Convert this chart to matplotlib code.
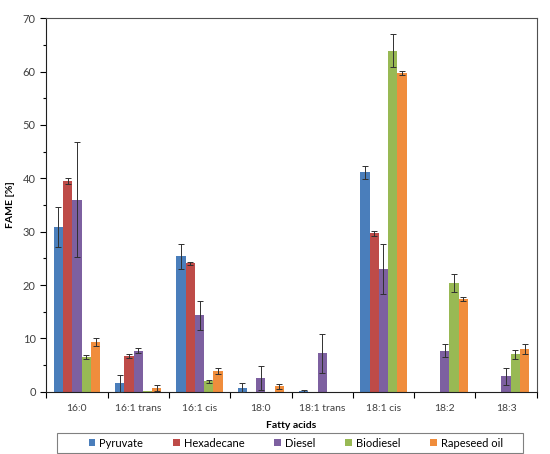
import numpy as np
import matplotlib.pyplot as plt
from matplotlib.ticker import MultipleLocator
from matplotlib.patches import Rectangle

plt.rcParams['font.family'] = ['Lato', 'DejaVu Sans']

# Kategorie i serie
acids = ["16:0", "16:1 trans", "16:1 cis", "18:0", "18:1 trans", "18:1 cis", "18:2", "18:3"]
series = ["Pyruvate", "Hexadecane", "Diesel", "Biodiesel", "Rapeseed oil"]

pyruvate = [30.9, 1.6, 25.4, 0.8, 0.1, 41.1, 0.0, 0.0]
pyruvate_err = [3.7, 1.6, 2.3, 0.9, 0.3, 1.2, 0.0, 0.0]
hexadecane = [39.5, 6.7, 24.1, 0.0, 0.0, 29.7, 0.0, 0.0]
hexadecane_err = [0.6, 0.4, 0.3, 0.0, 0.0, 0.5, 0.0, 0.0]
diesel = [36.0, 7.7, 14.3, 2.6, 7.2, 23.0, 7.7, 2.9]
diesel_err = [10.8, 0.5, 2.8, 2.2, 3.7, 4.7, 1.2, 1.6]
biodiesel = [6.5, 0.1, 2.0, 0.0, 0.0, 63.9, 20.4, 7.0]
biodiesel_err = [0.4, 0.0, 0.3, 0.0, 0.0, 3.1, 1.7, 0.8]
rapeseed = [9.3, 0.7, 3.9, 1.0, 0.0, 59.7, 17.4, 8.0]
rapeseed_err = [0.8, 0.5, 0.5, 0.5, 0.0, 0.4, 0.4, 1.0]

values = [pyruvate, hexadecane, diesel, biodiesel, rapeseed]
errors = [pyruvate_err, hexadecane_err, diesel_err, biodiesel_err, rapeseed_err]
colors = ["#4a7ebb", "#be4b48", "#7d60a0", "#98b954", "#f08d3c"]

fig = plt.figure(figsize=(5.5, 4.54), dpi=100)
ax = fig.add_axes([0.084, 0.137, 0.892, 0.823])

x = np.arange(len(acids))
w = 0.152
for i in range(len(series)):
    pos = x + (i - 2) * w
    ax.bar(pos, values[i], w, color=colors[i], label=series[i], zorder=2)
    err = np.array(errors[i])
    mask = err > 0
    ax.errorbar(pos[mask], np.array(values[i])[mask], yerr=err[mask], fmt='none',
                ecolor="#303030", elinewidth=0.7, capsize=2, capthick=0.7, zorder=3)

ax.set_xlim(-0.5, len(acids) - 0.5)
ax.set_ylim(0, 70)
ax.yaxis.set_major_locator(MultipleLocator(10))
ax.yaxis.set_minor_locator(MultipleLocator(5))
ax.set_xticks(x)
ax.set_xticklabels(acids)
ax.set_xticks(np.arange(-0.5, len(acids), 1), minor=True)
ax.tick_params(axis='x', which='major', length=0, labelsize=7.5, colors="#404040", pad=9)
ax.tick_params(axis='x', which='minor', length=4, direction='out', width=0.8)
ax.tick_params(axis='y', which='major', length=4, labelsize=8, labelcolor="#404040", width=0.8)
ax.tick_params(axis='y', which='minor', length=2.5, width=0.8)
for s in ax.spines.values():
    s.set_linewidth(0.8)
    s.set_color("#505050")
ax.spines['left'].set_color("#202020")
ax.spines['bottom'].set_color("#202020")

ax.set_xlabel("Fatty acids", fontsize=7.5, fontweight='bold')
ax.xaxis.set_label_coords(0.5, -0.078)
ax.set_ylabel("FAME [%]", fontsize=7.5, fontweight='bold')
ax.yaxis.set_label_coords(-0.063, 0.5)

# legenda bez ramki + osobna ramka jak w Excelu
leg = fig.legend(loc='center', bbox_to_anchor=(0.538, 0.024), ncol=5, fontsize=8,
                 handlelength=0.6, handleheight=0.6, handletextpad=0.35, columnspacing=2.7,
                 frameon=False, borderaxespad=0)
fig.patches.append(Rectangle((0.104, 0.003), 0.847, 0.044, transform=fig.transFigure,
                             fill=False, edgecolor="#808080", linewidth=0.8))

fig.savefig("out.png", dpi=100)
